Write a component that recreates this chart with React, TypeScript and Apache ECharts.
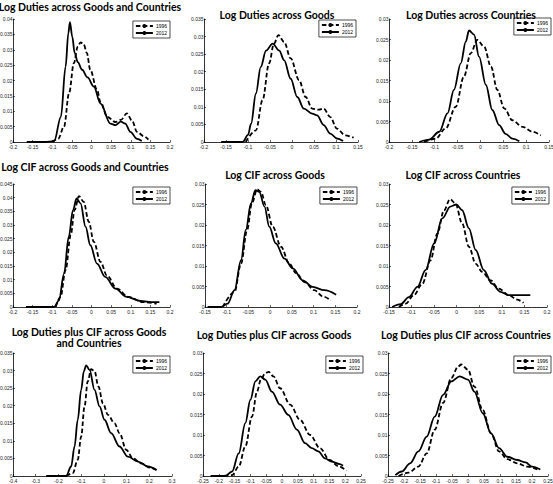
import { useEffect, useRef } from "react";
import * as echarts from "echarts";

const years = ["1996", "2012"];

// Log Duties across Goods and Countries
const dutiesGC1996 = [[-0.1,0],[-0.085,0.001],[-0.07,0.005],[-0.057,0.016],[-0.045,0.0256],[-0.035,0.031],[-0.028,0.0324],[-0.02,0.0318],[-0.012,0.029],[-0.003,0.0234],[0.014,0.017],[0.023,0.013],[0.04,0.0082],[0.061,0.0065],[0.075,0.0072],[0.09,0.0093],[0.103,0.007],[0.116,0.0033],[0.133,0.0019],[0.145,0.0008]];
const dutiesGC2012 = [[-0.165,0],[-0.12,0],[-0.095,0.0003],[-0.078,0.0082],[-0.066,0.0245],[-0.059,0.0354],[-0.055,0.039],[-0.049,0.0343],[-0.043,0.029],[-0.035,0.026],[-0.024,0.0235],[-0.01,0.021],[0.006,0.018],[0.023,0.0125],[0.048,0.006],[0.061,0.0055],[0.075,0.0066],[0.086,0.006],[0.099,0.0033],[0.116,0.001],[0.128,0.0003]];

// Log Duties across Goods
const dutiesG1996 = [[-0.105,0],[-0.082,0.0033],[-0.067,0.0119],[-0.052,0.0224],[-0.041,0.028],[-0.031,0.0304],[-0.018,0.0285],[-0.003,0.0238],[0.016,0.0176],[0.031,0.0128],[0.046,0.0095],[0.061,0.0092],[0.072,0.0095],[0.087,0.0071],[0.102,0.0038],[0.121,0.0019],[0.14,0.0012]];
const dutiesG2012 = [[-0.161,0],[-0.112,0],[-0.1,0.002],[-0.093,0.0052],[-0.082,0.0138],[-0.071,0.0214],[-0.059,0.026],[-0.044,0.028],[-0.029,0.026],[-0.018,0.0233],[-0.003,0.018],[0.012,0.0128],[0.027,0.0095],[0.046,0.0081],[0.057,0.0076],[0.072,0.0048],[0.087,0.0024],[0.102,0.001],[0.116,0.0003]];

// Log Duties across Countries
const dutiesC1996 = [[-0.123,0],[-0.098,0.0008],[-0.076,0.0033],[-0.054,0.0086],[-0.036,0.016],[-0.021,0.0217],[-0.007,0.0249],[0.008,0.0233],[0.023,0.0184],[0.037,0.0127],[0.052,0.0082],[0.07,0.0053],[0.092,0.0037],[0.114,0.0025],[0.132,0.0016]];
const dutiesC2012 = [[-0.134,0],[-0.112,0.0006],[-0.09,0.0025],[-0.072,0.007],[-0.058,0.0127],[-0.043,0.0192],[-0.032,0.0245],[-0.025,0.0272],[-0.014,0.0262],[-0.003,0.0208],[0.012,0.0139],[0.026,0.0078],[0.041,0.0041],[0.055,0.002],[0.07,0.0008],[0.085,0.0002]];

// Log CIF across Goods and Countries
const cifGC1996 = [[-0.091,0],[-0.079,0.0037],[-0.066,0.0135],[-0.053,0.0263],[-0.043,0.0355],[-0.032,0.0406],[-0.02,0.0385],[-0.007,0.0312],[0.006,0.0238],[0.023,0.0165],[0.039,0.0116],[0.065,0.0067],[0.094,0.0037],[0.132,0.0018],[0.166,0.0012]];
const cifGC2012 = [[-0.167,0],[-0.095,0],[-0.083,0.0024],[-0.07,0.0122],[-0.058,0.0257],[-0.047,0.0355],[-0.038,0.0397],[-0.028,0.0379],[-0.015,0.0293],[-0.003,0.0226],[0.014,0.0159],[0.035,0.011],[0.061,0.0067],[0.09,0.0037],[0.124,0.0022],[0.158,0.0018],[0.173,0.0018]];

// Log CIF across Goods
const cifG1996 = [[-0.109,0],[-0.082,0.0037],[-0.067,0.0106],[-0.053,0.0188],[-0.042,0.0253],[-0.03,0.0287],[-0.021,0.0281],[-0.01,0.0249],[0.006,0.0196],[0.025,0.0147],[0.044,0.0106],[0.06,0.0082],[0.079,0.0061],[0.102,0.0041],[0.121,0.0026],[0.14,0.0016]];
const cifG2012 = [[-0.144,0],[-0.113,0],[-0.098,0.0008],[-0.082,0.0041],[-0.067,0.0114],[-0.056,0.0188],[-0.044,0.0253],[-0.034,0.0285],[-0.025,0.0281],[-0.013,0.0245],[-0.002,0.0196],[0.013,0.0155],[0.033,0.0118],[0.052,0.0094],[0.075,0.0065],[0.098,0.0049],[0.125,0.0041],[0.152,0.003]];

// Log CIF across Countries
const cifC1996 = [[-0.128,0],[-0.113,0.0008],[-0.095,0.0029],[-0.076,0.0057],[-0.058,0.0114],[-0.043,0.0179],[-0.028,0.0236],[-0.015,0.0263],[-0.003,0.0253],[0.012,0.0204],[0.027,0.0147],[0.042,0.0106],[0.056,0.0086],[0.075,0.0065],[0.093,0.0045],[0.115,0.0029],[0.134,0.0018],[0.148,0.001]];
const cifC2012 = [[-0.143,0],[-0.124,0.0007],[-0.106,0.0024],[-0.087,0.0049],[-0.069,0.009],[-0.05,0.0155],[-0.032,0.0216],[-0.014,0.0245],[-0.001,0.025],[0.012,0.0236],[0.027,0.0192],[0.042,0.0139],[0.06,0.009],[0.078,0.0057],[0.097,0.0037],[0.115,0.0029],[0.137,0.0029],[0.163,0.0029]];

// Log Duties plus CIF across Goods and Countries
const totalGC1996 = [[-0.166,0],[-0.137,0.0008],[-0.115,0.0046],[-0.1,0.0112],[-0.085,0.0198],[-0.071,0.0269],[-0.056,0.0304],[-0.041,0.0298],[-0.024,0.0255],[-0.004,0.0207],[0.018,0.0174],[0.047,0.015],[0.069,0.0122],[0.099,0.0074],[0.128,0.005],[0.165,0.0036],[0.201,0.0024],[0.238,0.0015]];
const totalGC2012 = [[-0.254,0],[-0.166,0],[-0.144,0.0027],[-0.129,0.0084],[-0.115,0.016],[-0.1,0.0245],[-0.088,0.0298],[-0.078,0.0315],[-0.063,0.0302],[-0.041,0.0245],[-0.019,0.0198],[0.003,0.016],[0.032,0.0122],[0.069,0.0084],[0.106,0.0055],[0.15,0.0041],[0.194,0.0027],[0.231,0.0017]];

// Log Duties plus CIF across Goods
const totalG1996 = [[-0.184,0],[-0.158,0.0002],[-0.137,0.0023],[-0.116,0.0072],[-0.095,0.0145],[-0.079,0.0206],[-0.067,0.0235],[-0.053,0.0251],[-0.042,0.0254],[-0.027,0.0243],[-0.006,0.0214],[0.026,0.0174],[0.057,0.0137],[0.089,0.01],[0.12,0.0068],[0.151,0.0039],[0.178,0.0024],[0.204,0.0013]];
const totalG2012 = [[-0.226,0],[-0.179,0],[-0.158,0.0011],[-0.137,0.0055],[-0.116,0.0129],[-0.1,0.0186],[-0.084,0.0231],[-0.069,0.0243],[-0.053,0.0235],[-0.032,0.0206],[-0.006,0.0174],[0.02,0.0149],[0.047,0.0113],[0.073,0.008],[0.094,0.0068],[0.115,0.006],[0.136,0.0043],[0.157,0.0035],[0.183,0.0029],[0.193,0.0025]];

// Log Duties plus CIF across Countries
const totalC1996 = [[-0.217,0],[-0.186,0.0008],[-0.155,0.0023],[-0.129,0.0055],[-0.104,0.0113],[-0.078,0.0178],[-0.052,0.0239],[-0.031,0.0267],[-0.021,0.0272],[0,0.0259],[0.02,0.0218],[0.046,0.0161],[0.072,0.0104],[0.097,0.006],[0.123,0.0041],[0.154,0.0031],[0.185,0.0023],[0.221,0.0015]];
const totalC2012 = [[-0.227,0.0002],[-0.207,0.0011],[-0.181,0.0031],[-0.155,0.006],[-0.129,0.0096],[-0.104,0.0145],[-0.078,0.0198],[-0.052,0.0231],[-0.026,0.0243],[0,0.0235],[0.02,0.0206],[0.046,0.0153],[0.072,0.0104],[0.097,0.0068],[0.123,0.0047],[0.154,0.0039],[0.18,0.0033],[0.2,0.0023],[0.226,0.0016]];

const titles = [
  "Log Duties across Goods and Countries",
  "Log Duties across Goods",
  "Log Duties across Countries",
  "Log CIF across Goods and Countries",
  "Log CIF across Goods",
  "Log CIF across Countries",
  "Log Duties plus CIF across Goods\nand Countries",
  "Log Duties plus CIF across Goods",
  "Log Duties plus CIF across Countries",
];
const series1996 = [dutiesGC1996, dutiesG1996, dutiesC1996, cifGC1996, cifG1996, cifC1996, totalGC1996, totalG1996, totalC1996];
const series2012 = [dutiesGC2012, dutiesG2012, dutiesC2012, cifGC2012, cifG2012, cifC2012, totalGC2012, totalG2012, totalC2012];
const xMins = [-0.2, -0.2, -0.2, -0.2, -0.15, -0.15, -0.4, -0.25, -0.25];
const xMaxs = [0.2, 0.15, 0.15, 0.2, 0.2, 0.2, 0.3, 0.25, 0.25];
const xSteps = [0.05, 0.05, 0.05, 0.05, 0.05, 0.05, 0.1, 0.05, 0.05];
const yMaxs = [0.04, 0.035, 0.03, 0.045, 0.03, 0.03, 0.035, 0.03, 0.03];
const yStep = 0.005;

// layout (pixels)
const layout = [
  { left: 13, width: 157, top: 19, titleX: 90, titleY: 1, legRight: 383, legTop: 21 },
  { left: 204, width: 154, top: 19, titleX: 277, titleY: 9, legRight: 197, legTop: 20 },
  { left: 389, width: 160, top: 19, titleX: 471, titleY: 9, legRight: 2, legTop: 18 },
  { left: 13, width: 157, top: 184, titleX: 85, titleY: 161, legRight: 383, legTop: 187 },
  { left: 205, width: 152, top: 184, titleX: 275, titleY: 169, legRight: 196, legTop: 187 },
  { left: 389, width: 158, top: 184, titleX: 463, titleY: 169, legRight: 4, legTop: 187 },
  { left: 13, width: 159, top: 353, titleX: 89, titleY: 326, legRight: 383, legTop: 356 },
  { left: 203, width: 158, top: 353, titleX: 274, titleY: 329, legRight: 190, legTop: 356 },
  { left: 388, width: 160, top: 353, titleX: 466, titleY: 329, legRight: 2, legTop: 356 },
];
const plotHeight = 123;

export default function App() {
  const ref = useRef<HTMLDivElement>(null);
  useEffect(() => {
    document.body.style.margin = "0";
    if (!ref.current) return;
    const chart = echarts.init(ref.current, undefined, { renderer: "svg" });
    const labelFont = { fontSize: 5, fontFamily: "Liberation Sans", color: "#222" };
    const grid: any[] = [];
    const xAxis: any[] = [];
    const yAxis: any[] = [];
    const series: any[] = [];
    const title: any[] = [];
    const legend: any[] = [];
    layout.forEach((p, i) => {
      grid.push({ left: p.left, width: p.width, top: p.top, height: plotHeight, outerBoundsMode: "none", containLabel: false });
      const axisCommon = {
        gridIndex: i,
        type: "value",
        splitLine: { show: false },
        axisLine: { show: true, onZero: false, lineStyle: { color: "#000", width: 0.8 } },
        axisTick: { show: true, inside: true, length: 2, lineStyle: { color: "#000", width: 0.6 } },
      };
      xAxis.push({
        ...axisCommon,
        min: xMins[i],
        max: xMaxs[i],
        interval: xSteps[i],
        axisLabel: { ...labelFont, margin: 2, showMinLabel: true, showMaxLabel: true },
      });
      yAxis.push({
        ...axisCommon,
        min: 0,
        max: yMaxs[i],
        interval: yStep,
        axisLabel: { ...labelFont, margin: 0.5, showMinLabel: true, showMaxLabel: true },
      });
      series.push({
        name: years[0],
        type: "line",
        xAxisIndex: i,
        yAxisIndex: i,
        data: series1996[i],
        symbol: "none",
        smooth: 0.35,
        smoothMonotone: "x",
        lineStyle: { color: "#000", width: 1.8, type: [4.5, 2.5] },
        itemStyle: { color: "#000" },
      });
      series.push({
        name: years[1],
        type: "line",
        xAxisIndex: i,
        yAxisIndex: i,
        data: series2012[i],
        symbol: "none",
        smooth: 0.35,
        smoothMonotone: "x",
        lineStyle: { color: "#000", width: 1.8, type: "solid" },
        itemStyle: { color: "#000" },
      });
      title.push({
        text: titles[i],
        left: p.titleX,
        top: p.titleY,
        textAlign: "center",
        padding: 0,
        textStyle: { fontFamily: "Lato", fontWeight: "bold", fontSize: 10.5, color: "#000", lineHeight: 11 },
      });
      legend.push({
        data: years,
        orient: "vertical",
        right: p.legRight,
        top: p.legTop,
        itemWidth: 17,
        itemHeight: 5,
        itemGap: 2,
        padding: [2.5, 3, 2.5, 2],
        borderColor: "#000",
        borderWidth: 0.7,
        borderRadius: 0,
        backgroundColor: "#fff",
        selectedMode: false,
        textStyle: { fontSize: 5, fontFamily: "Liberation Sans", color: "#000", padding: [0, 0, 0, -2] },
      });
    });
    chart.setOption({
      animation: false,
      backgroundColor: "#fff",
      title,
      legend,
      grid,
      xAxis,
      yAxis,
      series,
    });
    return () => chart.dispose();
  }, []);
  return <div ref={ref} style={{ width: 553, height: 484 }} />;
}
